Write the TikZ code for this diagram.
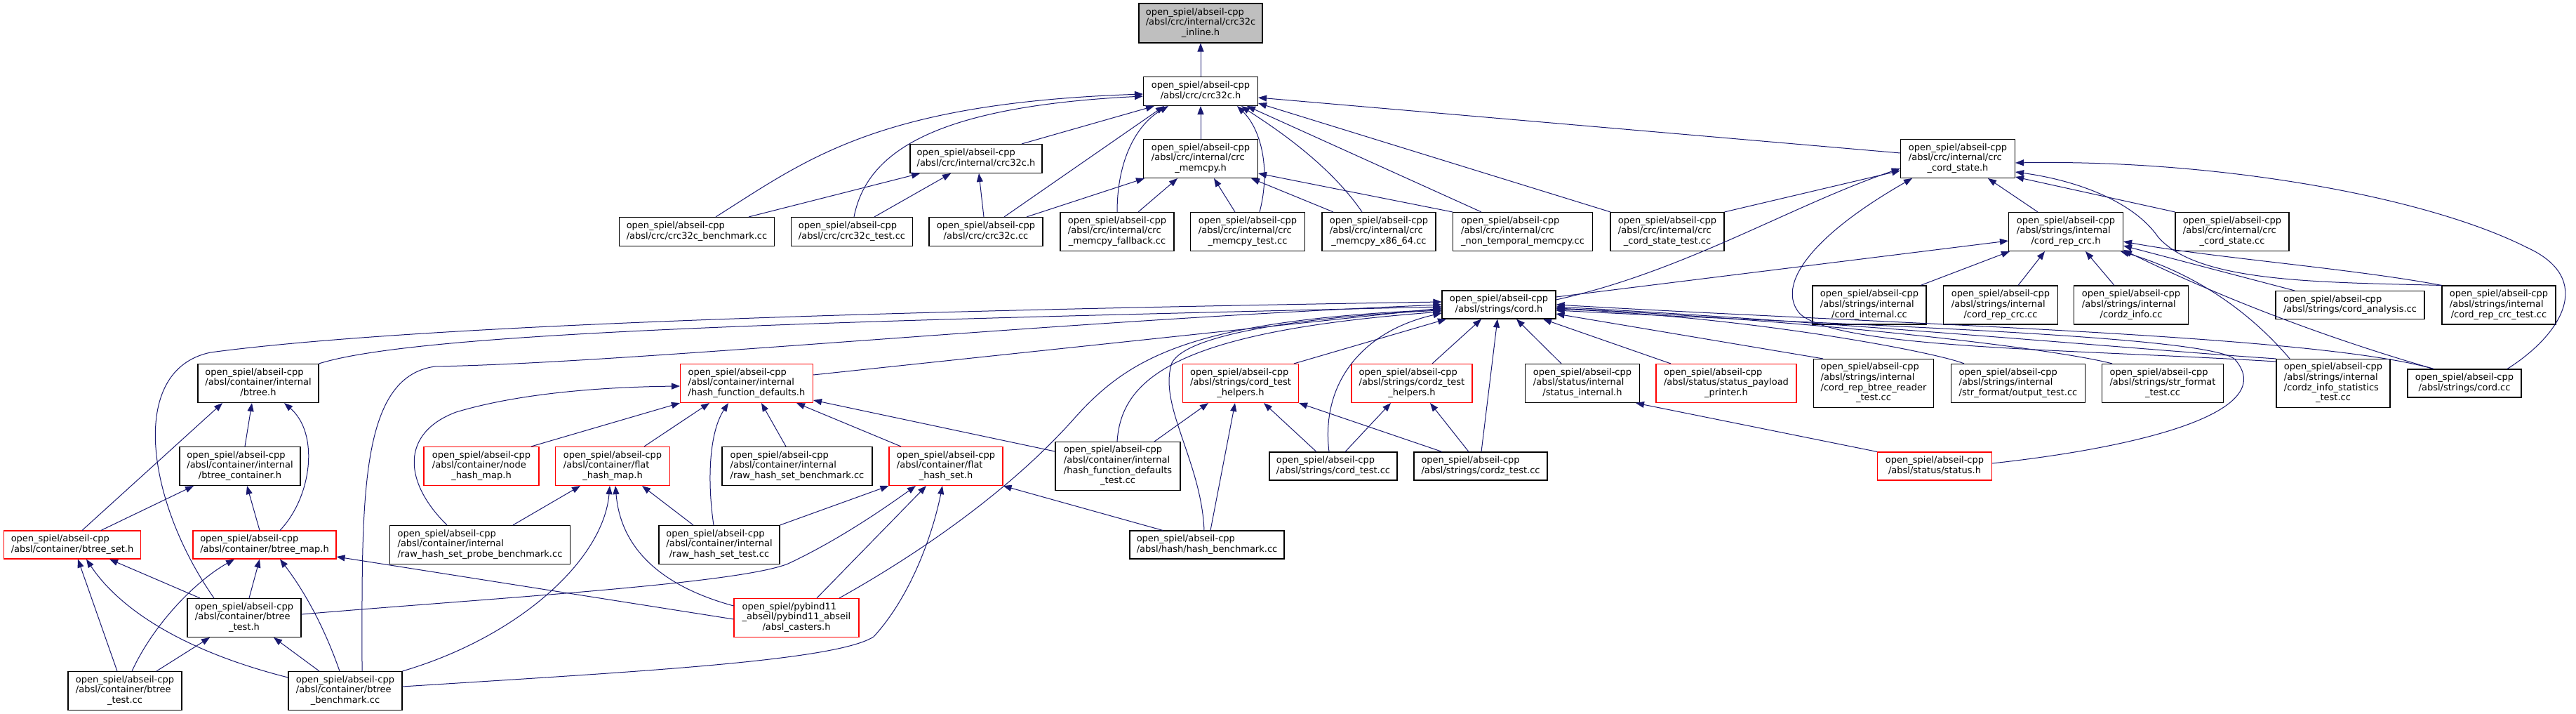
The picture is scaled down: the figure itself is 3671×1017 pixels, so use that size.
\documentclass[tikz,border=0pt]{standalone}
\usepackage{fontspec}
\setmainfont{DejaVu Sans}
\usetikzlibrary{arrows.meta}
\definecolor{edgeblue}{RGB}{25,25,112}
\newcommand\glbl[1]{\begin{tabular}{@{}l@{}}#1\end{tabular}}
\newcommand\gcl[1]{\multicolumn{1}{@{}c@{}}{#1}}
\newcommand\gnode[6]{\node[#1,minimum width=#4,minimum height=#5] (#2) at #3 {\glbl{#6}};}
\tikzset{
  box/.style={draw=black, line width=1.1pt, fill=white, inner sep=0pt, font=\fontsize{13}{14.7}\selectfont},
  redbox/.style={box, draw=red},
  rootbox/.style={box, fill=gray!50},
  dep/.style={draw=edgeblue, line width=1pt, -{Triangle[length=12pt,width=9pt]}}
}
\begin{document}
\begin{tikzpicture}[x=1pt,y=1pt]
\fill[white] (0,0) rectangle (3671,1017);
\useasboundingbox (0,0) rectangle (3671,1017);
% ---- nodes ----
\gnode{rootbox}{n0}{(1711,984)}{176}{56}{open\_spiel/abseil-cpp\\/absl/crc/internal/crc32c\\\gcl{\_inline.h}}
\gnode{box}{crc32ch}{(1711,887)}{163}{41}{open\_spiel/abseil-cpp\\\gcl{/absl/crc/crc32c.h}}
\gnode{box}{icrc32ch}{(1391,791)}{188}{41}{open\_spiel/abseil-cpp\\\gcl{/absl/crc/internal/crc32c.h}}
\gnode{box}{memcpyh}{(1711,791)}{163}{55}{open\_spiel/abseil-cpp\\/absl/crc/internal/crc\\\gcl{\_memcpy.h}}
\gnode{box}{statecordh}{(2790,791)}{163}{55}{open\_spiel/abseil-cpp\\/absl/crc/internal/crc\\\gcl{\_cord\_state.h}}
\gnode{box}{bench}{(993,687)}{221}{41}{open\_spiel/abseil-cpp\\\gcl{/absl/crc/crc32c\_benchmark.cc}}
\gnode{box}{c32test}{(1214,687)}{173}{41}{open\_spiel/abseil-cpp\\\gcl{/absl/crc/crc32c\_test.cc}}
\gnode{box}{c32cc}{(1405,687)}{162}{41}{open\_spiel/abseil-cpp\\\gcl{/absl/crc/crc32c.cc}}
\gnode{box}{fallback}{(1592,687)}{162}{55}{open\_spiel/abseil-cpp\\/absl/crc/internal/crc\\\gcl{\_memcpy\_fallback.cc}}
\gnode{box}{mtest}{(1778,687)}{163}{55}{open\_spiel/abseil-cpp\\/absl/crc/internal/crc\\\gcl{\_memcpy\_test.cc}}
\gnode{box}{x86}{(1965,687)}{162}{55}{open\_spiel/abseil-cpp\\/absl/crc/internal/crc\\\gcl{\_memcpy\_x86\_64.cc}}
\gnode{box}{nontemp}{(2170,687)}{199}{55}{open\_spiel/abseil-cpp\\/absl/crc/internal/crc\\\gcl{\_non\_temporal\_memcpy.cc}}
\gnode{box}{cstest}{(2376,687)}{162}{55}{open\_spiel/abseil-cpp\\/absl/crc/internal/crc\\\gcl{\_cord\_state\_test.cc}}
\gnode{box}{reprcrch}{(2944,687)}{163}{55}{open\_spiel/abseil-cpp\\/absl/strings/internal\\\gcl{/cord\_rep\_crc.h}}
\gnode{box}{cstatecc}{(3181,687)}{162}{55}{open\_spiel/abseil-cpp\\/absl/crc/internal/crc\\\gcl{\_cord\_state.cc}}
\gnode{box}{cordh}{(2136,583)}{162}{40}{open\_spiel/abseil-cpp\\\gcl{/absl/strings/cord.h}}
\gnode{box}{cordinternal}{(2664,582.5)}{162}{55}{open\_spiel/abseil-cpp\\/absl/strings/internal\\\gcl{/cord\_internal.cc}}
\gnode{box}{reprcrccc}{(2851,582.5)}{163}{55}{open\_spiel/abseil-cpp\\/absl/strings/internal\\\gcl{/cord\_rep\_crc.cc}}
\gnode{box}{cordzinfo}{(3037,582.5)}{163}{55}{open\_spiel/abseil-cpp\\/absl/strings/internal\\\gcl{/cordz\_info.cc}}
\gnode{box}{analysis}{(3349,582.5)}{212}{40}{open\_spiel/abseil-cpp\\\gcl{/absl/strings/cord\_analysis.cc}}
\gnode{box}{reprcrctest}{(3561,582.5)}{162}{55}{open\_spiel/abseil-cpp\\/absl/strings/internal\\\gcl{/cord\_rep\_crc\_test.cc}}
\gnode{box}{btreeh}{(368,471)}{172}{55}{open\_spiel/abseil-cpp\\/absl/container/internal\\\gcl{/btree.h}}
\gnode{redbox}{hfdh}{(1064,471)}{189}{55}{open\_spiel/abseil-cpp\\/absl/container/internal\\\gcl{/hash\_function\_defaults.h}}
\gnode{redbox}{cthelp}{(1768,471)}{165}{55}{open\_spiel/abseil-cpp\\/absl/strings/cord\_test\\\gcl{\_helpers.h}}
\gnode{redbox}{czhelp}{(2012,471)}{172}{55}{open\_spiel/abseil-cpp\\/absl/strings/cordz\_test\\\gcl{\_helpers.h}}
\gnode{box}{statusint}{(2255,471)}{163}{55}{open\_spiel/abseil-cpp\\/absl/status/internal\\\gcl{/status\_internal.h}}
\gnode{redbox}{payload}{(2460,471)}{200}{55}{open\_spiel/abseil-cpp\\/absl/status/status\_payload\\\gcl{\_printer.h}}
\gnode{box}{btreader}{(2670,471)}{171}{69}{open\_spiel/abseil-cpp\\/absl/strings/internal\\/cord\_rep\_btree\_reader\\\gcl{\_test.cc}}
\gnode{box}{outtest}{(2876,471)}{191}{55}{open\_spiel/abseil-cpp\\/absl/strings/internal\\\gcl{/str\_format/output\_test.cc}}
\gnode{box}{strfmt}{(3082,471)}{173}{55}{open\_spiel/abseil-cpp\\/absl/strings/str\_format\\\gcl{\_test.cc}}
\gnode{box}{czstats}{(3325,471)}{162}{69}{open\_spiel/abseil-cpp\\/absl/strings/internal\\/cordz\_info\_statistics\\\gcl{\_test.cc}}
\gnode{box}{cordcc}{(3512,471)}{162}{40}{open\_spiel/abseil-cpp\\\gcl{/absl/strings/cord.cc}}
\gnode{box}{btcont}{(342,353)}{172}{55}{open\_spiel/abseil-cpp\\/absl/container/internal\\\gcl{/btree\_container.h}}
\gnode{redbox}{nodehm}{(686,353)}{164}{55}{open\_spiel/abseil-cpp\\/absl/container/node\\\gcl{\_hash\_map.h}}
\gnode{redbox}{flathm}{(873,353)}{163}{55}{open\_spiel/abseil-cpp\\/absl/container/flat\\\gcl{\_hash\_map.h}}
\gnode{box}{rhsbench}{(1136,353)}{214}{55}{open\_spiel/abseil-cpp\\/absl/container/internal\\\gcl{/raw\_hash\_set\_benchmark.cc}}
\gnode{redbox}{flaths}{(1348,353)}{162}{55}{open\_spiel/abseil-cpp\\/absl/container/flat\\\gcl{\_hash\_set.h}}
\gnode{box}{hfdtest}{(1593,353)}{178}{69}{open\_spiel/abseil-cpp\\/absl/container/internal\\/hash\_function\_defaults\\\gcl{\_test.cc}}
\gnode{box}{cordtest}{(1900,353)}{182}{40}{open\_spiel/abseil-cpp\\\gcl{/absl/strings/cord\_test.cc}}
\gnode{box}{cordztest}{(2110,353)}{190}{40}{open\_spiel/abseil-cpp\\\gcl{/absl/strings/cordz\_test.cc}}
\gnode{redbox}{statush}{(2757,353)}{163}{40}{open\_spiel/abseil-cpp\\\gcl{/absl/status/status.h}}
\gnode{redbox}{btset}{(103,241)}{195}{40}{open\_spiel/abseil-cpp\\\gcl{/absl/container/btree\_set.h}}
\gnode{redbox}{btmap}{(377,241)}{204}{40}{open\_spiel/abseil-cpp\\\gcl{/absl/container/btree\_map.h}}
\gnode{box}{probe}{(684,241)}{257}{55}{open\_spiel/abseil-cpp\\/absl/container/internal\\\gcl{/raw\_hash\_set\_probe\_benchmark.cc}}
\gnode{box}{rhstest}{(1025,241)}{172}{55}{open\_spiel/abseil-cpp\\/absl/container/internal\\\gcl{/raw\_hash\_set\_test.cc}}
\gnode{box}{hashbench}{(1720,241)}{220}{40}{open\_spiel/abseil-cpp\\\gcl{/absl/hash/hash\_benchmark.cc}}
\gnode{box}{bttesth}{(348,137)}{162}{55}{open\_spiel/abseil-cpp\\/absl/container/btree\\\gcl{\_test.h}}
\gnode{redbox}{casters}{(1135,137)}{178}{55}{open\_spiel/pybind11\\\_abseil/pybind11\_abseil\\\gcl{/absl\_casters.h}}
\gnode{box}{bttestcc}{(178,33)}{162}{55}{open\_spiel/abseil-cpp\\/absl/container/btree\\\gcl{\_test.cc}}
\gnode{box}{btbench}{(492,33)}{162}{55}{open\_spiel/abseil-cpp\\/absl/container/btree\\\gcl{\_benchmark.cc}}
% ---- edges: crc ----
\draw[dep] (crc32ch.north) -- (n0.south);
\draw[dep] ([xshift=65]icrc32ch.north) -- ([xshift=-66]crc32ch.south);
\draw[dep] (memcpyh.north) -- (crc32ch.south);
\draw[dep] ([yshift=8]statecordh.west) -- ([yshift=-9]crc32ch.east);
\draw[dep] ([xshift=27]bench.north) .. controls (1150,790) and (1250,870) .. ([yshift=-4]crc32ch.west);
\draw[dep] ([xshift=3]c32test.north) .. controls (1235,800) and (1330,865) .. ([yshift=-7]crc32ch.west);
\draw[dep] ([xshift=26]c32cc.north) -- ([xshift=-52]crc32ch.south);
\draw[dep] (fallback.north) .. controls (1592,790) and (1620,840) .. ([xshift=-46]crc32ch.south);
\draw[dep] ([xshift=17]mtest.north) .. controls (1812,780) and (1795,835) .. ([xshift=52]crc32ch.south);
\draw[dep] ([xshift=-24]x86.north) .. controls (1890,790) and (1800,845) .. ([xshift=58]crc32ch.south);
\draw[dep] ([xshift=-59]nontemp.north) -- ([xshift=66]crc32ch.south);
\draw[dep] ([xshift=-81]cstest.north) -- ([yshift=-17]crc32ch.east);
\draw[dep] ([xshift=74]bench.north) -- ([xshift=-80]icrc32ch.south);
\draw[dep] ([xshift=32]c32test.north) -- ([xshift=-36]icrc32ch.south);
\draw[dep] ([xshift=-3]c32cc.north) -- ([xshift=4]icrc32ch.south);
\draw[dep] ([xshift=58]c32cc.north) -- ([xshift=-80]memcpyh.south);
\draw[dep] ([xshift=30]fallback.north) -- ([xshift=-33]memcpyh.south);
\draw[dep] ([xshift=-18]mtest.north) -- ([xshift=19]memcpyh.south);
\draw[dep] ([xshift=-65]x86.north) -- ([xshift=72]memcpyh.south);
\draw[dep] (nontemp.north west) -- ([yshift=-21]memcpyh.east);
\draw[dep] (cstest.north east) -- ([yshift=-17]statecordh.west);
\draw[dep] ([yshift=7]cordh.east) .. controls (2400,630) and (2554,725) .. ([yshift=-14]statecordh.west);
\draw[dep] ([xshift=-40]reprcrch.north) -- ([xshift=43]statecordh.south);
\draw[dep] (cstatecc.north west) -- ([yshift=-26]statecordh.east);
\draw[dep] ([yshift=31]czstats.west) .. controls (2950,520) and (2620,520) .. (2565,570) .. controls (2530,610) and (2580,680) .. ([xshift=-65]statecordh.south);
\draw[dep] ([xshift=61]cordcc.north) .. controls (3650,540) and (3700,620) .. (3600,665) .. controls (3450,740) and (3150,790) .. ([yshift=-6]statecordh.east);
\draw[dep] (reprcrctest.north west) .. controls (3300,615) and (3130,615) .. (3075,680) .. controls (3040,730) and (2960,760) .. ([yshift=-19]statecordh.east);
% ---- edges: cord_rep_crc.h ----
\draw[dep] ([yshift=11]cordh.east) -- ([yshift=-13]reprcrch.west);
\draw[dep] ([xshift=73]cordinternal.north) -- ([xshift=-80]reprcrch.south);
\draw[dep] ([xshift=25]reprcrccc.north) -- ([xshift=-30]reprcrch.south);
\draw[dep] ([xshift=-24]cordzinfo.north) -- ([xshift=28]reprcrch.south);
\draw[dep] ([xshift=-79]analysis.north) -- ([yshift=-20]reprcrch.east);
\draw[dep] (reprcrctest.north west) .. controls (3350,635) and (3150,650) .. ([yshift=-14]reprcrch.east);
\draw[dep] ([xshift=-62]czstats.north) .. controls (3200,580) and (3120,630) .. ([xshift=78]reprcrch.south);
\draw[dep] ([xshift=-44]cordcc.north) .. controls (3300,540) and (3150,600) .. ([yshift=-26]reprcrch.east);
% ---- edges: cord.h ----
\draw[dep] (btreeh.north east) .. controls (600,545) and (1200,560) .. ([yshift=-3]cordh.west);
\draw[dep] ([xshift=-43]bttesth.north) .. controls (210,300) and (180,490) .. (300,515) .. controls (600,555) and (1300,575) .. ([yshift=4]cordh.west);
\draw[dep] ([xshift=24]btbench.north) .. controls (516,300) and (510,480) .. (620,495) .. controls (900,500) and (1500,560) .. (cordh.west);
\draw[dep] ([yshift=12]hfdh.east) -- ([yshift=-5]cordh.west);
\draw[dep] ([xshift=76]cthelp.north) -- ([xshift=-75]cordh.south);
\draw[dep] ([xshift=29]czhelp.north) -- ([xshift=-25]cordh.south);
\draw[dep] ([xshift=1]cordztest.north) -- ([xshift=-2]cordh.south);
\draw[dep] ([xshift=-6]cordtest.north) .. controls (1882,470) and (1940,545) .. ([yshift=-12]cordh.west);
\draw[dep] ([xshift=-30]statusint.north) -- ([xshift=25]cordh.south);
\draw[dep] ([xshift=-79]payload.north) -- ([xshift=63]cordh.south);
\draw[dep] ([xshift=-72]btreader.north) -- ([yshift=-13]cordh.east);
\draw[dep] ([xshift=-77]outtest.north) .. controls (2760,515) and (2500,565) .. ([yshift=-6]cordh.east);
\draw[dep] ([xshift=-72]strfmt.north) .. controls (2930,520) and (2600,560) .. ([yshift=-5]cordh.east);
\draw[dep] (czstats.north west) .. controls (3100,515) and (2600,560) .. ([yshift=-3]cordh.east);
\draw[dep] ([xshift=-44]cordcc.north) .. controls (3300,540) and (2700,555) .. (cordh.east);
\draw[dep] ([yshift=4]statush.east) .. controls (3050,380) and (3250,430) .. (3185,505) .. controls (3150,540) and (2600,555) .. ([yshift=-8]cordh.east);
\draw[dep] ([xshift=61]casters.north) .. controls (1330,240) and (1450,330) .. (1530,420) .. controls (1610,510) and (1700,560) .. ([yshift=-7]cordh.west);
\draw[dep] ([xshift=-1]hfdtest.north) .. controls (1598,480) and (1680,545) .. ([yshift=-10]cordh.west);
\draw[dep] ([xshift=-4]hashbench.north) .. controls (1712,360) and (1650,440) .. (1670,500) .. controls (1690,540) and (1850,565) .. ([yshift=-8]cordh.west);
% ---- edges: hash_function_defaults.h ----
\draw[dep] ([xshift=-47]probe.north) .. controls (575,330) and (570,400) .. (650,430) .. controls (750,460) and (880,466) .. ([yshift=-4]hfdh.west);
\draw[dep] ([xshift=71]nodehm.north) -- (hfdh.south west);
\draw[dep] ([xshift=45]flathm.north) -- ([xshift=-53]hfdh.south);
\draw[dep] ([xshift=-8]rhstest.north) .. controls (1008,330) and (1010,400) .. ([xshift=-26]hfdh.south);
\draw[dep] ([xshift=-16]rhsbench.north) -- ([xshift=21]hfdh.south);
\draw[dep] ([xshift=-64]flaths.north) -- ([xshift=71]hfdh.south);
\draw[dep] ([yshift=21]hfdtest.west) -- ([yshift=4]hfdh.south east);
% ---- edges: helpers, status ----
\draw[dep] ([xshift=52]hfdtest.north) -- ([xshift=-46]cthelp.south);
\draw[dep] ([xshift=5]hashbench.north) -- ([xshift=-8]cthelp.south);
\draw[dep] ([xshift=-24]cordtest.north) -- ([xshift=33]cthelp.south);
\draw[dep] ([xshift=-55]cordztest.north) -- (cthelp.south east);
\draw[dep] ([xshift=17]cordtest.north) -- ([xshift=-30]czhelp.south);
\draw[dep] ([xshift=-17]cordztest.north) -- ([xshift=26]czhelp.south);
\draw[dep] (statush.north west) -- ([xshift=76]statusint.south);
% ---- edges: flat_hash_set.h ----
\draw[dep] (rhstest.north east) -- (flaths.south west);
\draw[dep] ([yshift=5]bttesth.east) .. controls (700,165) and (1050,185) .. (1123,214) .. controls (1200,250) and (1270,300) .. ([xshift=-43]flaths.south);
\draw[dep] ([xshift=29]casters.north) -- ([xshift=-28]flaths.south);
\draw[dep] ([yshift=6]btbench.east) .. controls (900,60) and (1190,75) .. (1245,110) .. controls (1300,170) and (1330,260) .. ([xshift=-5]flaths.south);
\draw[dep] ([xshift=-63]hashbench.north) -- (flaths.south east);
% ---- edges: flat_hash_map.h ----
\draw[dep] ([xshift=47]probe.north) -- ([xshift=-46]flathm.south);
\draw[dep] (btbench.north east) .. controls (740,110) and (860,220) .. ([xshift=-4]flathm.south);
\draw[dep] ([yshift=17]casters.west) .. controls (950,180) and (885,230) .. ([xshift=4]flathm.south);
\draw[dep] ([xshift=-37]rhstest.north) -- ([xshift=42]flathm.south);
% ---- edges: btree ----
\draw[dep] ([xshift=7]bttesth.north) -- ([xshift=-7]btmap.south);
\draw[dep] ([xshift=10]bttestcc.north) .. controls (220,130) and (280,190) .. ([xshift=-43]btmap.south);
\draw[dep] ([xshift=-8]btbench.north) .. controls (460,130) and (430,180) .. ([xshift=22]btmap.south);
\draw[dep] ([yshift=-2]casters.west) -- ([yshift=-17]btmap.east);
\draw[dep] ([xshift=-63]bttesth.north) -- ([xshift=53]btset.south);
\draw[dep] ([xshift=-11]bttestcc.north) -- ([xshift=8]btset.south);
\draw[dep] ([yshift=19]btbench.west) .. controls (260,90) and (170,150) .. ([xshift=20]btset.south);
\draw[dep] ([xshift=45]bttestcc.north) -- ([xshift=-49]bttesth.south);
\draw[dep] ([xshift=-37]btbench.north) -- ([xshift=42]bttesth.south);
\draw[dep] ([xshift=41]btset.north) -- ([xshift=-66]btcont.south);
\draw[dep] ([xshift=-7]btmap.north) -- ([xshift=10]btcont.south);
\draw[dep] ([xshift=7]btcont.north) -- ([xshift=-9]btreeh.south);
\draw[dep] ([xshift=14]btset.north) -- ([xshift=-51]btreeh.south);
\draw[dep] ([xshift=22]btmap.north) .. controls (445,310) and (455,400) .. ([xshift=37]btreeh.south);
\end{tikzpicture}
\end{document}
